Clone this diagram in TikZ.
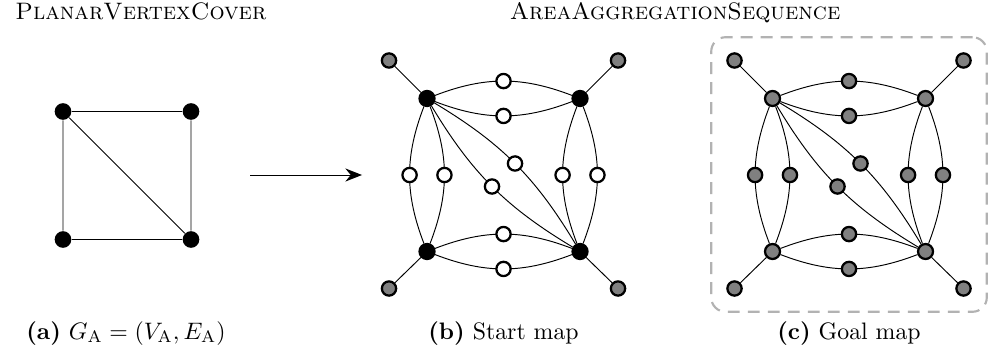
\documentclass[tikz,border=0pt]{standalone}
\usetikzlibrary{arrows.meta, fit}

\begin{document}
\begin{tikzpicture}[x=0.42pt, y=-0.42pt, thin]
    \tikzstyle{vertex}=[circle, minimum size=6.3pt, inner sep=0pt, draw=black, line width=0.95pt]  % Circles with black boundary
    \tikzstyle{input vertex}=[circle, minimum size=7pt, inner sep=0pt, fill=black];
    \tikzstyle{corner vertex}=[vertex];
    \tikzstyle{region vertex}=[vertex, minimum size=6pt];
    \tikzstyle{outer vertex}=[vertex, fill=gray, minimum size=6pt];
    \tikzstyle{goal box}=[draw=black!30, line width=0.9pt, dash pattern=on 5pt off 3.4pt, rounded corners=6pt, inner sep=6.3pt]
    \tikzstyle{caption}=[anchor=base]

    \useasboundingbox (0,0) rectangle (990,355);

    % Titles
    \node[anchor=base west] (title-a) at (7,20) {\textsc{PlanarVertexCover}};
    \node[anchor=base] (title-bc) at (675,20) {\textsc{AreaAggregationSequence}};

    % (a) input graph
    \node[input vertex] (a-tl) at (63,111.5) {};
    \node[input vertex] (a-tr) at (191,111.5) {};
    \node[input vertex] (a-bl) at (63,239.5) {};
    \node[input vertex] (a-br) at (191,239.5) {};
    \draw (a-tl) -- (a-tr) -- (a-br) -- (a-bl) -- (a-tl) -- (a-br);

    % Reduction arrow
    \coordinate (arr-s) at (250,175);
    \coordinate (arr-e) at (362,175);
    \draw[-{Stealth[length=7pt, width=5.5pt]}] (arr-s) -- (arr-e);

    % (b) start map and (c) goal map
    \foreach \p/\cx/\cfill/\mfill in {b/503.5/black/white, c/849/gray/gray} {
        \begin{scope}[shift={(\cx,175)}]
            \node[corner vertex, fill=\cfill] (\p-tl) at (-76.5,-76.5) {};
            \node[corner vertex, fill=\cfill] (\p-tr) at (76.5,-76.5) {};
            \node[corner vertex, fill=\cfill] (\p-bl) at (-76.5,76.5) {};
            \node[corner vertex, fill=\cfill] (\p-br) at (76.5,76.5) {};
            \node[outer vertex] (\p-otl) at (-114.5,-114.5) {};
            \node[outer vertex] (\p-otr) at (114.5,-114.5) {};
            \node[outer vertex] (\p-obl) at (-114.5,113.5) {};
            \node[outer vertex] (\p-obr) at (114.5,113.5) {};
        \end{scope}

        % Connect corners to outer vertices
        \foreach \k in {tl,tr,bl,br}
            \draw (\p-\k) -- (\p-o\k);

        % Double edges through region vertices
        \draw (\p-tl) to[bend left=21] node[region vertex, fill=\mfill] (\p-t1) {} (\p-tr);
        \draw (\p-tl) to[bend right=21] node[region vertex, fill=\mfill] (\p-t2) {} (\p-tr);
        \draw (\p-bl) to[bend left=21] node[region vertex, fill=\mfill] (\p-b1) {} (\p-br);
        \draw (\p-bl) to[bend right=21] node[region vertex, fill=\mfill] (\p-b2) {} (\p-br);
        \draw (\p-tl) to[bend right=21] node[region vertex, fill=\mfill] (\p-l1) {} (\p-bl);
        \draw (\p-tl) to[bend left=21] node[region vertex, fill=\mfill] (\p-l2) {} (\p-bl);
        \draw (\p-tr) to[bend right=21] node[region vertex, fill=\mfill] (\p-r1) {} (\p-br);
        \draw (\p-tr) to[bend left=21] node[region vertex, fill=\mfill] (\p-r2) {} (\p-br);
        \draw (\p-tl) to[bend left=14] node[region vertex, fill=\mfill] (\p-d1) {} (\p-br);
        \draw (\p-tl) to[bend right=14] node[region vertex, fill=\mfill] (\p-d2) {} (\p-br);
    }

    % Goal frame
    \node[goal box, fit=(c-otl)(c-obr)] (c-box) {};

    % Captions
    \node[caption] (cap-a) at (126,339) {\textbf{(a)} $G_{\mathrm{A}} = (V_{\mathrm{A}}, E_{\mathrm{A}})$};
    \node[caption] (cap-b) at (503.5,339) {\textbf{(b)} Start map};
    \node[caption] (cap-c) at (849,339) {\textbf{(c)} Goal map};
\end{tikzpicture}
\end{document}
